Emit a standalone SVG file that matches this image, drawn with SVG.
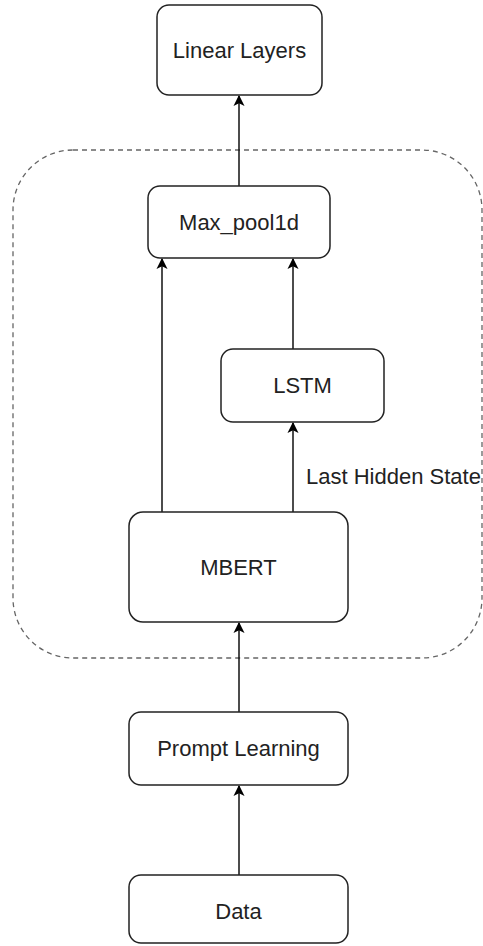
<svg xmlns="http://www.w3.org/2000/svg" width="483" height="946" viewBox="0 0 483 946">
<defs>
<style>
.box{fill:#fff;stroke:#222;stroke-width:1.5}
.lbl{font-family:"Liberation Sans",Arial,sans-serif;font-size:22px;fill:#222;text-anchor:middle;dominant-baseline:central}
.edge{stroke:#111;stroke-width:1.5;fill:none}
.group{fill:none;stroke:#666;stroke-width:1.3;stroke-dasharray:5 4}
</style>
<marker id="ah" markerWidth="11" markerHeight="12" refX="9" refY="5" orient="auto" markerUnits="userSpaceOnUse" viewBox="0 0 10 10">
<path d="M0,0 L10,5 L0,10 L2.5,5 Z" fill="#000"/>
</marker>
</defs>
<g id="container"><rect class="group" x="13" y="150" width="469" height="508" rx="60" ry="60"/></g>
<g id="connectors">
<line class="edge" x1="239" y1="186" x2="239" y2="96" marker-end="url(#ah)"/>
<line class="edge" x1="162" y1="512" x2="162" y2="259" marker-end="url(#ah)"/>
<line class="edge" x1="293" y1="349" x2="293" y2="259" marker-end="url(#ah)"/>
<line class="edge" x1="293" y1="512" x2="293" y2="423" marker-end="url(#ah)"/>
<line class="edge" x1="239" y1="712" x2="239" y2="623" marker-end="url(#ah)"/>
<line class="edge" x1="239" y1="875" x2="239" y2="786" marker-end="url(#ah)"/>
<text class="lbl" x="306" y="476" style="text-anchor:start">Last Hidden State</text>
</g>
<g id="linear"><rect class="box" x="157" y="5" width="165" height="90" rx="12"/><text class="lbl" x="239.5" y="50">Linear Layers</text></g>
<g id="maxpool"><rect class="box" x="148" y="186" width="182" height="72" rx="12"/><text class="lbl" x="239" y="222">Max_pool1d</text></g>
<g id="lstm"><rect class="box" x="221" y="349" width="163" height="73" rx="12"/><text class="lbl" x="302.5" y="385.5">LSTM</text></g>
<g id="mbert"><rect class="box" x="129" y="512" width="219" height="110" rx="14"/><text class="lbl" x="238.5" y="567">MBERT</text></g>
<g id="prompt"><rect class="box" x="129" y="712" width="219" height="73" rx="12"/><text class="lbl" x="238.5" y="748.5">Prompt Learning</text></g>
<g id="data"><rect class="box" x="129" y="875" width="219" height="68" rx="12"/><text class="lbl" x="238.5" y="911">Data</text></g>
</svg>
